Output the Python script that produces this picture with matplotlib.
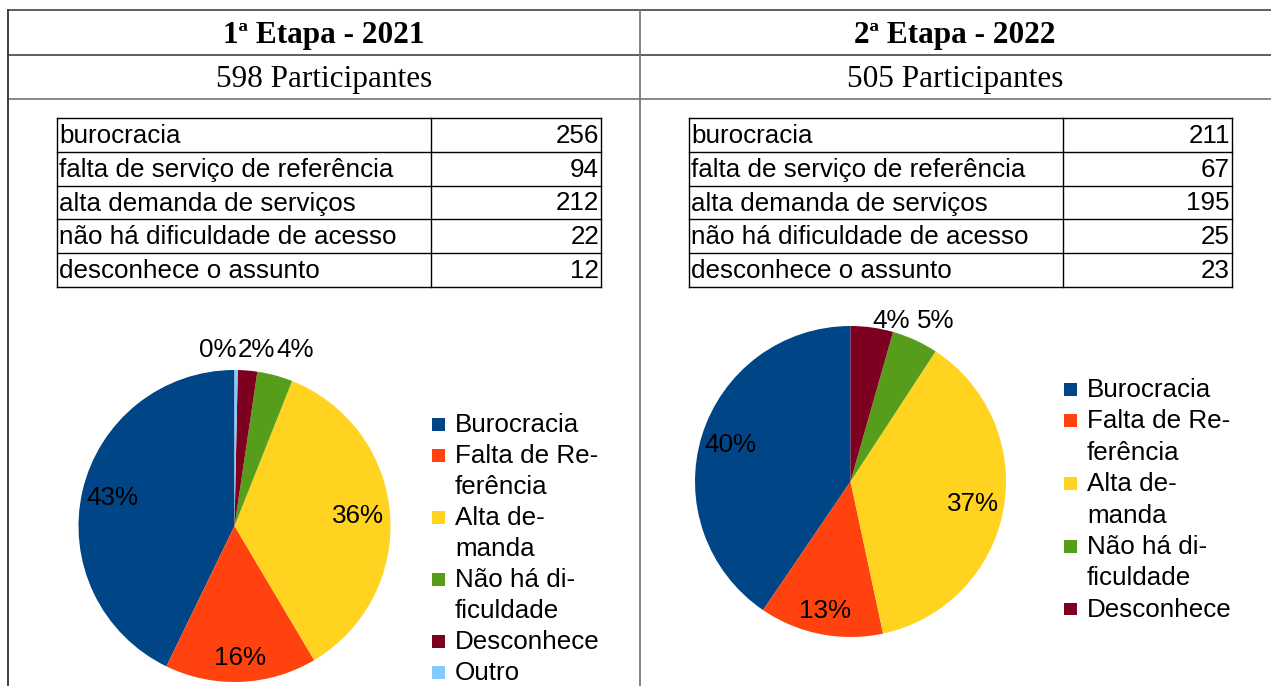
import numpy as np
import matplotlib.pyplot as plt

# dados
titulos = ["1ª Etapa - 2021", "2ª Etapa - 2022"]
participantes = ["598 Participantes", "505 Participantes"]

tab_itens = ["burocracia", "falta de serviço de referência", "alta demanda de serviços",
             "não há dificuldade de acesso", "desconhece o assunto"]
tab_2021 = [256, 94, 212, 22, 12]
tab_2022 = [211, 67, 195, 25, 23]

leg_2021 = ["Burocracia", "Falta de Re-\nferência", "Alta de-\nmanda",
            "Não há di-\nficuldade", "Desconhece", "Outro"]
leg_2022 = ["Burocracia", "Falta de Re-\nferência", "Alta de-\nmanda",
            "Não há di-\nficuldade", "Desconhece"]
pie_2021 = [256, 94, 212, 22, 12, 2]
pie_2022 = [211, 67, 195, 25, 23]
pct_2021 = ["43%", "16%", "36%", "4%", "2%", "0%"]
pct_2022 = ["40%", "13%", "37%", "5%", "4%"]

cores = ["#004586", "#ff420e", "#ffd320", "#579d1c", "#7e0021", "#83caff"]

W, H = 1271, 686
fig = plt.figure(figsize=(W / 100, H / 100), dpi=100)
bg = fig.add_axes([0, 0, 1, 1])
bg.set_xlim(0, W)
bg.set_ylim(H, 0)
bg.axis("off")

sans = "Liberation Sans"
serif = "Liberation Serif"
FS = 18.7

# moldura
lc = "#333333"
bg.plot([8, W], [10, 10], color=lc, lw=1.1)
bg.plot([8, W], [55, 55], color=lc, lw=1.1)
bg.plot([8, W], [99, 99], color="#888888", lw=1.4)
bg.plot([8, 8], [10, H], color=lc, lw=1.3)
bg.plot([639.5, 639.5], [10, H], color="#777777", lw=1.3)

cols = [(8, 639.5), (639.5, W)]
for i in range(2):
    cx = (cols[i][0] + cols[i][1]) / 2
    bg.text(cx, 35, titulos[i], family=serif, weight="bold", fontsize=22.5,
            ha="center", va="center")
    bg.text(cx, 79, participantes[i], family=serif, fontsize=22.5,
            ha="center", va="center")


def tabela(x0, xm, x1, y0, valores):
    rh = 33.8
    n = len(tab_itens)
    for k in range(n + 1):
        bg.plot([x0, x1], [y0 + k * rh, y0 + k * rh], color="black", lw=1.0)
    for x in (x0, xm, x1):
        bg.plot([x, x], [y0, y0 + n * rh], color="black", lw=1.0)
    for k, (nome, v) in enumerate(zip(tab_itens, valores)):
        yc = y0 + (k + 0.5) * rh + 1
        bg.text(x0 + 2, yc, nome, family=sans, fontsize=FS, ha="left", va="center")
        bg.text(x1 - 2, yc, str(v), family=sans, fontsize=FS, ha="right", va="center")


tabela(57, 431, 601, 118, tab_2021)
tabela(689, 1063, 1232, 118, tab_2022)


def pizza(cx, cy, r, valores, pcts, y_fora):
    ax = fig.add_axes([(cx - r) / W, (H - cy - r) / H, 2 * r / W, 2 * r / H])
    wedges, _ = ax.pie(valores, colors=cores[:len(valores)], startangle=90,
                       counterclock=True, wedgeprops=dict(linewidth=0))
    ax.set_xlim(-1, 1)
    ax.set_ylim(-1, 1)
    total = sum(valores)
    fora = []
    for w, v, p in zip(wedges, valores, pcts):
        mid = np.deg2rad((w.theta1 + w.theta2) / 2)
        if v / total >= 0.08:
            d = 0.79 + 0.06 * abs(np.sin(mid))
            ax.text(d * np.cos(mid), d * np.sin(mid), p, family=sans, fontsize=FS,
                    ha="center", va="center")
        else:
            fora.append([1.03 * np.cos(mid), p])
    # rotulos pequenos fora da pizza, lado a lado
    larg = 37.6 / r
    fora.sort(key=lambda t: t[0])
    xs = [f[0] + larg / 2 for f in fora]
    for k in range(len(xs) - 2, -1, -1):
        xs[k] = min(xs[k], xs[k + 1] - larg * 1.03)
    for x, f in zip(xs, fora):
        ax.text(x, y_fora, f[1], family=sans, fontsize=FS, ha="center", va="center",
                clip_on=False)


pizza(234.5, 526, 156, pie_2021, pct_2021, 1.128)
pizza(850.5, 481.5, 155.5, pie_2022, pct_2022, 1.032)


def legenda(x, y0, rotulos, lh):
    linha = 0
    for k, rot in enumerate(rotulos):
        y = y0 + linha * lh
        bg.add_patch(plt.Rectangle((x, y - 6), 12.5, 12.5, facecolor=cores[k], edgecolor="none"))
        for parte in rot.split("\n"):
            bg.text(x + 23, y0 + linha * lh + 1, parte, family=sans, fontsize=FS,
                    ha="left", va="center")
            linha += 1


legenda(432, 424, leg_2021, 31.0)
legenda(1064, 389, leg_2022, 31.4)

fig.savefig("out.png", dpi=100)
